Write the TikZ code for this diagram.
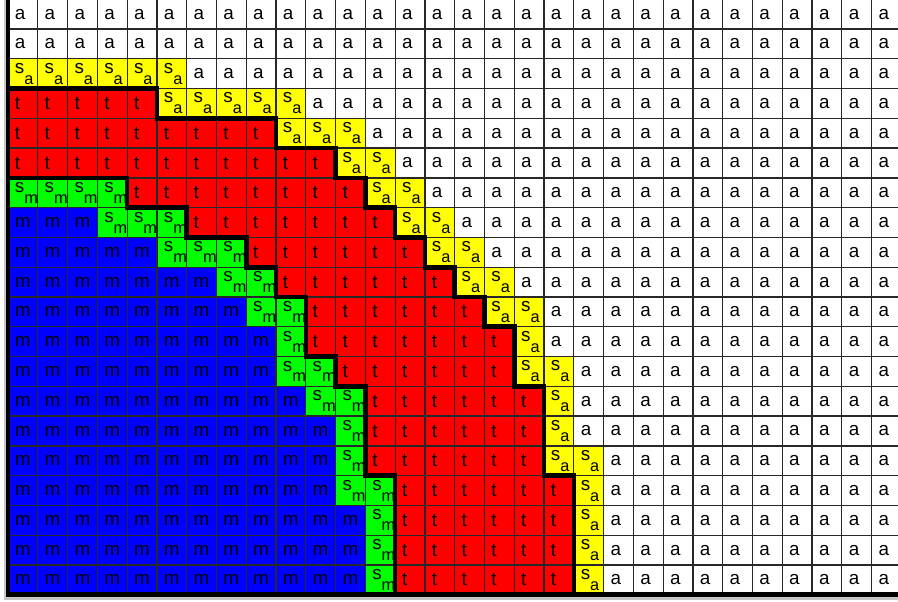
\documentclass[tikz,border=0pt]{standalone}
\usepackage{fontspec}
\setmainfont{Liberation Sans}
\usetikzlibrary{calc}
\definecolor{purered}{RGB}{255, 0, 0}
\definecolor{pureyellow}{RGB}{255, 255, 0}
\definecolor{puregreen}{RGB}{0, 255, 0}
\definecolor{pureblue}{RGB}{0, 0, 255}
\definecolor{gridgray}{RGB}{40, 40, 40}
\newcommand{\sublabel}[2]{\raisebox{0.3ex}{#1}\raisebox{-0.8ex}{\fontsize{7.8}{8}\selectfont #2}}

\begin{document}
\begin{tikzpicture}[x=0.5cm, y=0.5cm,
  cell/.style={draw=gridgray, line width=0.6pt, minimum width=0.5cm, minimum height=0.5cm,
    inner xsep=3.3pt, inner ysep=0pt, text width=7.6pt, align=left,
    font=\fontsize{9}{10}\selectfont},
  acell/.style={cell, fill=white},
  sacell/.style={cell, fill=pureyellow},
  tcell/.style={cell, fill=purered},
  smcell/.style={cell, fill=puregreen},
  mcell/.style={cell, fill=pureblue},
  frame/.style={line width=2.2pt, line cap=rect, line join=miter}]
\useasboundingbox (-0.269,-20.21) rectangle (29.886,-0.027);

% ── Shadow ──────────────────────────────────────────────────────
\fill[gray!45] (-0.14,0.2) rectangle (30,-20.17);

% ── Cells: row / last m / last s_m / last t / last s_a ──────────
\foreach \r/\mEnd/\smEnd/\tEnd/\saEnd in {
  1/0/0/0/0, 2/0/0/0/0, 3/0/0/0/6, 4/0/0/5/10, 5/0/0/9/12,
  6/0/0/11/13, 7/0/4/12/14, 8/3/6/13/15, 9/5/8/14/16, 10/7/9/15/17,
  11/8/10/16/18, 12/9/10/17/18, 13/9/11/17/19, 14/10/12/18/19,
  15/11/12/18/19, 16/11/12/18/20, 17/11/13/19/20, 18/12/13/19/20,
  19/12/13/19/20, 20/12/13/19/20} {
  \foreach \c in {1,...,30} {
    \ifnum\c>\saEnd
      \node[acell] (c-\r-\c) at (\c-0.5,0.5-\r) {a};
    \else\ifnum\c>\tEnd
      \node[sacell] (c-\r-\c) at (\c-0.5,0.5-\r) {\sublabel{s}{a}};
    \else\ifnum\c>\smEnd
      \node[tcell] (c-\r-\c) at (\c-0.5,0.5-\r) {t};
    \else\ifnum\c>\mEnd
      \node[smcell] (c-\r-\c) at (\c-0.5,0.5-\r) {\sublabel{s}{m}};
    \else
      \node[mcell] (c-\r-\c) at (\c-0.5,0.5-\r) {m};
    \fi\fi\fi\fi
  }
}

% ── Outline of the t region ─────────────────────────────────────
\draw[frame] (0,-3) -- (5,-3) -- (5,-4) -- (9,-4) -- (9,-5) -- (11,-5)
  -- (11,-6) -- (12,-6) -- (12,-7) -- (13,-7) -- (13,-8) -- (14,-8)
  -- (14,-9) -- (15,-9) -- (15,-10) -- (16,-10) -- (16,-11) -- (17,-11)
  -- (17,-13) -- (18,-13) -- (18,-16) -- (19,-16) -- (19,-20);
\draw[frame] (0,-6) -- (4,-6) -- (4,-7) -- (6,-7) -- (6,-8) -- (8,-8)
  -- (8,-9) -- (9,-9) -- (9,-10) -- (10,-10) -- (10,-12) -- (11,-12)
  -- (11,-13) -- (12,-13) -- (12,-16) -- (13,-16) -- (13,-20);

% ── Outer frame ─────────────────────────────────────────────────
\draw[frame] (0,0.3) -- (0,-20) -- (30,-20);
\end{tikzpicture}
\end{document}
